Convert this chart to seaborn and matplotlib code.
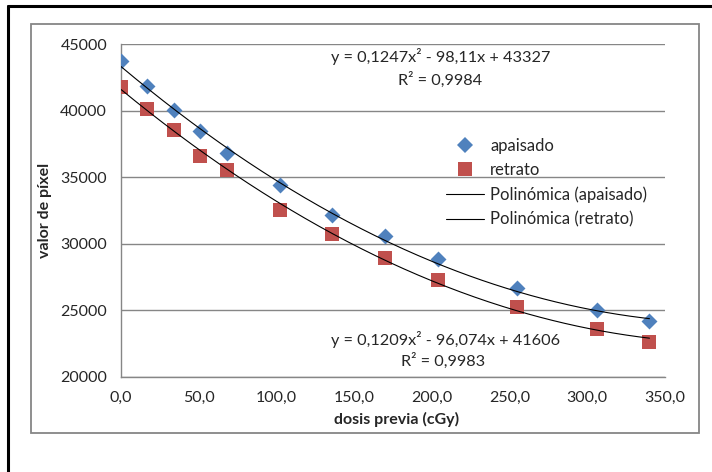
import numpy as np
import pandas as pd
import matplotlib
matplotlib.use("Agg")
import matplotlib.pyplot as plt
from matplotlib.lines import Line2D
from matplotlib.patches import Rectangle
import seaborn as sns

# Measured pixel values versus prior dose
dosis = [0, 17, 34, 51, 68, 102, 136, 170, 204, 255, 306, 340]
apaisado = [43750, 41870, 40070, 38520, 36830, 34450, 32200, 30570, 28880, 26700, 25070, 24200]
retrato = [41820, 40150, 38580, 36570, 35520, 32540, 30770, 28950, 27320, 25280, 23630, 22620]

# Second-order polynomial trendlines (a, b, c) and their R²
coef_apaisado = [0.1247, -98.11, 43327]
coef_retrato = [0.1209, -96.074, 41606]
r2_apaisado = "0,9984"
r2_retrato = "0,9983"

x_ticks = [0, 50, 100, 150, 200, 250, 300, 350]
x_tick_labels = ["0,0", "50,0", "100,0", "150,0", "200,0", "250,0", "300,0", "350,0"]
y_ticks = [20000, 25000, 30000, 35000, 40000, 45000]
y_tick_labels = ["20000", "25000", "30000", "35000", "40000", "45000"]

BLUE = "#4F81BD"
RED = "#C0504D"
GRID = "#868686"
TXT = "#262626"

sns.set_theme(style="white")
plt.rcParams["font.family"] = ["Lato", "DejaVu Sans"]

W, H = 712, 472
fig = plt.figure(figsize=(W / 100, H / 100), dpi=100)
fig.patch.set_facecolor("white")

def fx(px):
    return px / W

def fy(py):
    return 1 - py / H

ax = fig.add_axes([fx(121), fy(377), fx(665) - fx(121), fy(44.3) - fy(377)])
ax.set_facecolor("white")

df = pd.DataFrame({"dosis": dosis, "apaisado": apaisado, "retrato": retrato})

sns.scatterplot(data=df, x="dosis", y="apaisado", marker="D", s=66, color=BLUE,
                linewidth=0, ax=ax, zorder=3, label="apaisado", legend=False)
sns.scatterplot(data=df, x="dosis", y="retrato", marker="s", s=105, color=RED,
                linewidth=0, ax=ax, zorder=3, label="retrato", legend=False)

xs = np.linspace(0, max(dosis), 300)
fit = pd.DataFrame({
    "x": xs,
    "ap": np.polyval(coef_apaisado, xs),
    "re": np.polyval(coef_retrato, xs),
})
sns.lineplot(data=fit, x="x", y="ap", color="black", linewidth=0.8, ax=ax, zorder=4)
sns.lineplot(data=fit, x="x", y="re", color="black", linewidth=0.8, ax=ax, zorder=4)

ax.set_xlim(0, 350)
ax.set_ylim(20000, 45000)
ax.set_xticks(x_ticks)
ax.set_xticklabels(x_tick_labels)
ax.set_yticks(y_ticks)
ax.set_yticklabels(y_tick_labels)
ax.yaxis.grid(True, color=GRID, linewidth=1.0)
ax.xaxis.grid(False)
ax.set_axisbelow(True)
for side in ("top", "right"):
    ax.spines[side].set_visible(False)
for side in ("left", "bottom"):
    ax.spines[side].set_color(GRID)
    ax.spines[side].set_linewidth(1.0)
ax.tick_params(axis="both", which="major", direction="out", color=GRID,
               width=1.0, labelsize=11.5, labelcolor=TXT)
ax.tick_params(axis="y", length=3, pad=7)
ax.tick_params(axis="x", length=4, pad=6)
ax.set_xlabel("dosis previa (cGy)", fontsize=11.5, fontweight="bold", color=TXT)
ax.set_ylabel("valor de píxel", fontsize=11.5, fontweight="bold", color=TXT)
ax.xaxis.set_label_coords(0.507, -0.105)
ax.yaxis.set_label_coords(-0.127, 0.5)


def fmt(v):
    return str(abs(v)).replace(".", ",")


def eq_text(c):
    a, b, k = c
    sb = "-" if b < 0 else "+"
    sk = "-" if k < 0 else "+"
    return f"y = {fmt(a)}x² {sb} {fmt(b)}x {sk} {fmt(k)}"


ax.text(206, 44050, eq_text(coef_apaisado), ha="center", va="center", fontsize=11.7, color=TXT)
ax.text(205, 42320, f"R² = {r2_apaisado}", ha="center", va="center", fontsize=11.7, color=TXT)
ax.text(208.5, 22830, eq_text(coef_retrato), ha="center", va="center", fontsize=11.7, color=TXT)
ax.text(207, 21180, f"R² = {r2_retrato}", ha="center", va="center", fontsize=11.7, color=TXT)

handles = [
    Line2D([], [], marker="D", linestyle="none", color=BLUE, markersize=7.8, markeredgewidth=0),
    Line2D([], [], marker="s", linestyle="none", color=RED, markersize=10, markeredgewidth=0),
    Line2D([], [], color="black", linewidth=0.8),
    Line2D([], [], color="black", linewidth=0.8),
]
labels = ["apaisado", "retrato", "Polinómica (apaisado)", "Polinómica (retrato)"]
leg = ax.legend(handles, labels, loc="upper left",
                bbox_to_anchor=(fx(446), fy(138)), bbox_transform=fig.transFigure,
                frameon=False, fontsize=12, handlelength=2.3, handletextpad=0.35,
                labelspacing=0.5, borderpad=0, borderaxespad=0)
for t in leg.get_texts():
    t.set_color(TXT)

# Chart border and page frame
fig.add_artist(Rectangle((fx(31), fy(433)), fx(699) - fx(31), fy(24) - fy(433),
                         transform=fig.transFigure, fill=False, edgecolor=GRID, linewidth=1.3))
fig.add_artist(Line2D([fx(8), 1.0], [fy(5.5), fy(5.5)], transform=fig.transFigure,
                      color="black", linewidth=2.2))
fig.add_artist(Line2D([fx(8), fx(8)], [fy(5.5), 0.0], transform=fig.transFigure,
                      color="black", linewidth=2.2))

fig.savefig("out.png", dpi=100, facecolor="white")
